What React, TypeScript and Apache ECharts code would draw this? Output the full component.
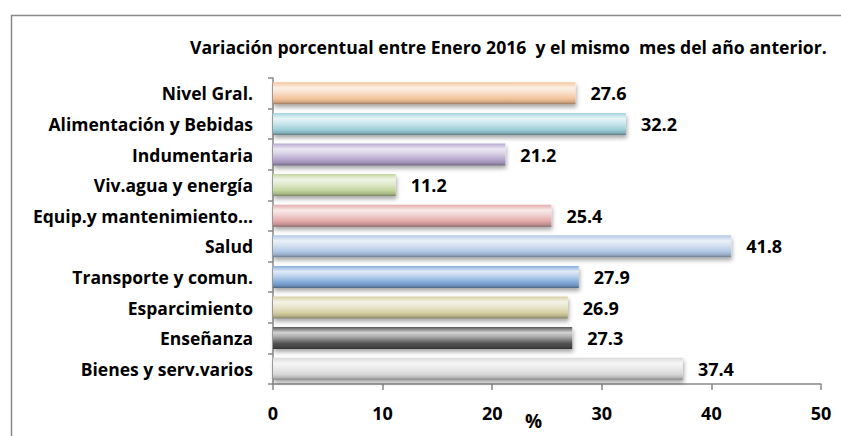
import React, { useEffect, useRef } from "react";
import * as echarts from "echarts";

const categories: string[] = [
  "Nivel Gral.",
  "Alimentación y Bebidas",
  "Indumentaria",
  "Viv.agua y energía",
  "Equip.y mantenimiento…",
  "Salud",
  "Transporte y comun.",
  "Esparcimiento",
  "Enseñanza",
  "Bienes y serv.varios",
];
const values: number[] = [27.6, 32.2, 21.2, 11.2, 25.4, 41.8, 27.9, 26.9, 27.3, 37.4];
const baseColors: string[] = [
  "#F3C39A",
  "#9ED1DC",
  "#B4A4CD",
  "#C2D59C",
  "#E3A9A8",
  "#AFC6E4",
  "#80A9DA",
  "#D5CEA0",
  "#505050",
  "#D8D8D8",
];
const titleText = "Variación porcentual entre Enero 2016  y el mismo  mes del año anterior.";
const axisName = "%";

const FONT = "'Open Sans', 'Noto Sans', sans-serif";

function mix(hex: string, target: number, t: number): string {
  const n = parseInt(hex.slice(1), 16);
  const r = (n >> 16) & 255, g = (n >> 8) & 255, b = n & 255;
  const f = (c: number) => Math.round(c + (target - c) * t);
  return `rgb(${f(r)},${f(g)},${f(b)})`;
}

export default function App() {
  const ref = useRef<HTMLDivElement>(null);
  useEffect(() => {
    document.body.style.margin = "0";
    if (!ref.current) return;
    const chart = echarts.init(ref.current, undefined, { renderer: "svg" });
    const data = values.map((v, i) => {
      const c = baseColors[i];
      return {
        value: v,
        itemStyle: {
          color: new echarts.graphic.LinearGradient(0, 0, 0, 1, [
            { offset: 0, color: mix(c, 255, 0.05) },
            { offset: 0.25, color: mix(c, 255, 0.75) },
            { offset: 0.45, color: mix(c, 255, 0.5) },
            { offset: 0.75, color: c },
            { offset: 0.9, color: mix(c, 0, 0.15) },
            { offset: 1, color: mix(c, 0, 0.4) },
          ]),
          shadowColor: "rgba(0,0,0,0.35)",
          shadowBlur: 4,
          shadowOffsetY: 3,
          shadowOffsetX: 1,
        },
      };
    });
    chart.setOption({
      animation: false,
      textStyle: { fontFamily: FONT },
      title: {
        text: titleText,
        left: 190,
        top: 38,
        padding: 0,
        textStyle: { fontFamily: FONT, fontSize: 17.6, fontWeight: "bold", color: "#000" },
      },
      grid: { left: 273, right: 20, top: 78, bottom: 52, containLabel: false },
      xAxis: {
        type: "value",
        min: 0,
        max: 50,
        interval: 10,
        splitLine: { show: false },
        axisLine: { show: true, lineStyle: { color: "#888", width: 1.5 } },
        axisTick: { show: true, length: 6, lineStyle: { color: "#888", width: 1.5 } },
        axisLabel: { margin: 20, fontSize: 18, fontWeight: "bold", color: "#000", fontFamily: FONT },
      },
      yAxis: {
        type: "category",
        data: categories,
        inverse: true,
        axisLine: { show: true, lineStyle: { color: "#888", width: 1.5 } },
        axisTick: { show: true, length: 5, lineStyle: { color: "#888", width: 1.5 } },
        axisLabel: { margin: 20, fontSize: 17.5, fontWeight: "bold", color: "#000", fontFamily: FONT },
      },
      series: [
        {
          type: "bar",
          data,
          barCategoryGap: "28%",
          label: {
            show: true,
            position: "right",
            distance: 15,
            fontSize: 18,
            fontWeight: "bold",
            color: "#000",
            fontFamily: FONT,
            formatter: (p: any) => Number(p.value).toFixed(1),
          },
        },
      ],
      graphic: [
        {
          type: "rect",
          left: 9,
          top: 13,
          shape: { width: 900, height: 500 },
          style: { fill: "none", stroke: "#888", lineWidth: 1.5 },
          silent: true,
        },
        {
          type: "text",
          left: 525,
          top: 411,
          style: { text: axisName, fontSize: 19, fontWeight: "bold", fill: "#000", fontFamily: FONT },
        },
      ],
    });
    return () => chart.dispose();
  }, []);
  return <div ref={ref} style={{ width: 841, height: 436 }} />;
}
